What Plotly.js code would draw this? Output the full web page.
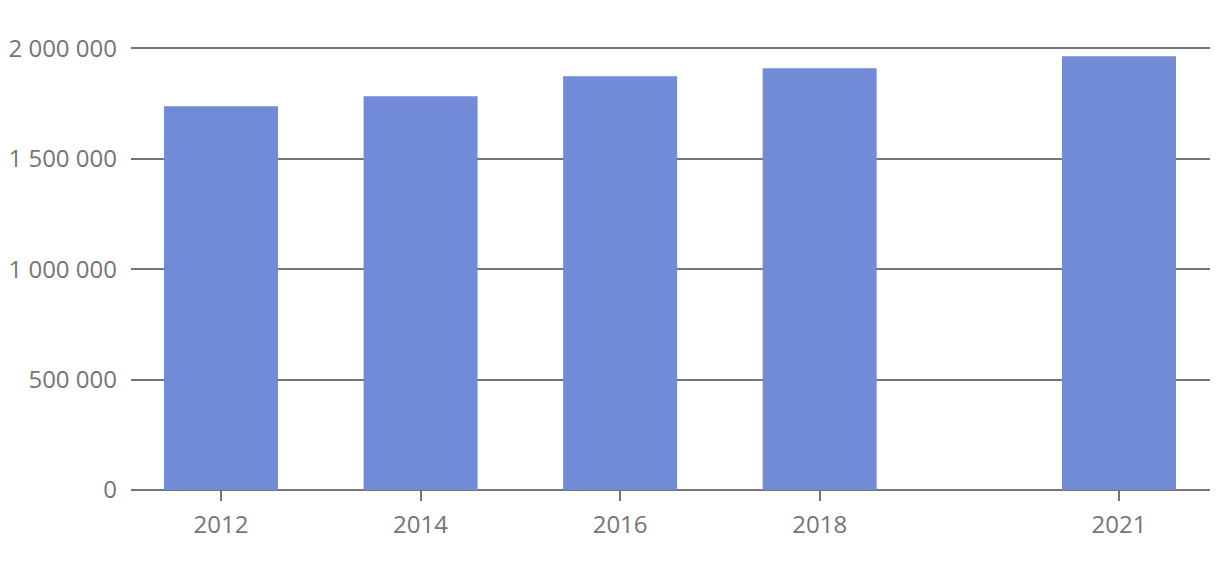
<!DOCTYPE html>
<html>
<head>
<meta charset="utf-8">
<script src="https://cdn.plot.ly/plotly-3.0.1.min.js"></script>
<style>html,body{margin:0;padding:0;background:#fff;}#chart{width:1220px;height:566px;}</style>
</head>
<body>
<div id="chart"></div>
<script>
const years = [2012, 2014, 2016, 2018, 2021];
const values = [1737000, 1783000, 1873000, 1909000, 1964000];
const yTicks = [0, 500000, 1000000, 1500000, 2000000];

const trace = {
  type: 'bar',
  x: years,
  y: values,
  width: 1.1425,
  marker: {color: '#728bd6', opacity: 1, line: {width: 0}},
  hoverinfo: 'x+y'
};

const layout = {
  width: 1220,
  height: 566,
  margin: {l: 131, r: 10, t: 46, b: 76},
  paper_bgcolor: '#fff',
  plot_bgcolor: '#fff',
  separators: '. ',
  font: {family: 'Open Sans', size: 24, color: '#757575'},
  showlegend: false,
  xaxis: {
    range: [2011.098, 2021.912],
    tickvals: years,
    ticktext: years.map(String),
    ticks: 'outside',
    ticklen: 10,
    tickwidth: 2,
    tickcolor: '#757575',
    ticklabelstandoff: 3,
    showgrid: false,
    showline: false,
    zeroline: false,
    tickfont: {family: 'Open Sans', size: 24, color: '#757575'}
  },
  yaxis: {
    range: [0, 2010000],
    tickvals: yTicks,
    tickformat: ',d',
    showgrid: true,
    gridcolor: '#757575',
    gridwidth: 2,
    zeroline: true,
    zerolinecolor: '#757575',
    zerolinewidth: 2,
    showline: false,
    layer: 'below traces',
    ticks: '',
    ticklabelstandoff: 13,
    tickfont: {family: 'Open Sans', size: 24, color: '#757575'}
  }
};

Plotly.newPlot('chart', [trace], layout, {displayModeBar: false, staticPlot: true});
</script>
</body>
</html>
